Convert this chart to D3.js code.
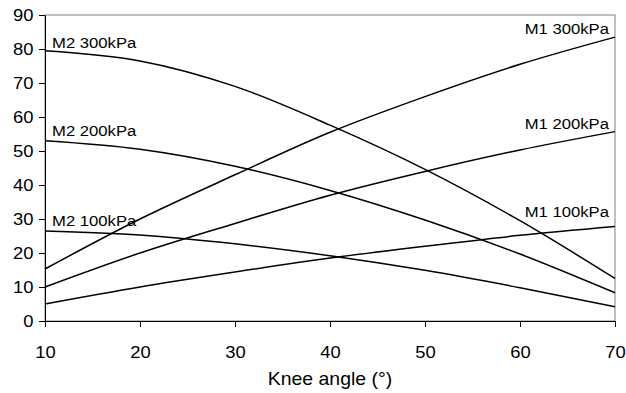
<!DOCTYPE html>
<html>
<head>
<meta charset="utf-8">
<script src="https://cdn.jsdelivr.net/npm/d3@7"></script>
<style>
  body { margin: 0; background: #fff; }
  text { font-family: "Liberation Sans", Arial, sans-serif; fill: #000; }
</style>
</head>
<body>
<div id="chart"></div>
<script>
// knee angle (deg) and moments for each muscle / pressure
const angles = [10, 20, 30, 40, 50, 60, 70];
const m1_100 = [5, 10, 14.4, 18.5, 22, 25.2, 27.8];
const m1_200 = [10, 20, 28.7, 37, 44, 50.3, 55.7];
const m1_300 = [15.3, 30, 43, 55.5, 66, 75.5, 83.5];
const m2_100 = [26.5, 25.3, 22.7, 19.2, 14.9, 9.8, 4.2];
const m2_200 = [53, 50.5, 45.5, 38.4, 29.7, 19.7, 8.3];
const m2_300 = [79.5, 76.5, 69, 57.6, 44.6, 29.5, 12.5];
const yTicks = [0, 10, 20, 30, 40, 50, 60, 70, 80, 90];
const xTicks = [10, 20, 30, 40, 50, 60, 70];
const seriesNames = ["M1 100kPa", "M1 200kPa", "M1 300kPa", "M2 100kPa", "M2 200kPa", "M2 300kPa"];

var series = [m1_100, m1_200, m1_300, m2_100, m2_200, m2_300].map(function(v, i) {
  return {name: seriesNames[i], values: v, side: i < 3 ? "right" : "left"};
});

// label lift above the line end, px
var labelLift = {"M1 100kPa": 9, "M1 200kPa": 3, "M1 300kPa": 3,
                 "M2 100kPa": 5, "M2 200kPa": 5, "M2 300kPa": 3};

var W = 626, H = 393;
var margin = {top: 15, right: 11, bottom: 72, left: 45};
var width = W - margin.left - margin.right;
var height = H - margin.top - margin.bottom;
var stretch = 1.15;

var svg = d3.select("#chart").append("svg")
    .attr("width", W)
    .attr("height", H);
var g = svg.append("g")
    .attr("transform", "translate(" + margin.left + "," + margin.top + ")");

var x = d3.scaleLinear().domain([10, 70]).range([0, width]);
var y = d3.scaleLinear().domain([0, 90]).range([height, 0]);

// grey frame (top and right)
g.append("rect")
    .attr("x", 0).attr("y", 0)
    .attr("width", width).attr("height", height)
    .attr("fill", "none")
    .attr("stroke", "#808080")
    .attr("stroke-width", 1);

var yAxis = g.append("g")
    .call(d3.axisLeft(y).tickValues(yTicks).tickSize(6).tickSizeOuter(0).tickPadding(4));
yAxis.selectAll("text")
    .attr("x", -10)
    .attr("transform", "scale(" + stretch + ",1)")
    .style("font-size", "16px");

var xAxis = g.append("g")
    .attr("transform", "translate(0," + height + ")")
    .call(d3.axisBottom(x).tickValues(xTicks).tickSize(6).tickSizeOuter(0).tickPadding(20));
xAxis.selectAll("text")
    .attr("transform", "scale(" + stretch + ",1)")
    .style("font-size", "16px");

g.selectAll(".domain, .tick line").attr("stroke", "#000").attr("stroke-width", 1);

var line = d3.line()
    .x(function(d, i) { return x(angles[i]); })
    .y(function(d) { return y(d); })
    .curve(d3.curveMonotoneX);

g.selectAll(".series")
    .data(series)
    .enter().append("path")
    .attr("class", "series")
    .attr("fill", "none")
    .attr("stroke", "#000")
    .attr("stroke-width", 1.5)
    .attr("d", function(d) { return line(d.values); });

// series labels next to the line ends
series.forEach(function(s) {
  var last = s.values.length - 1;
  var px = s.side === "left" ? x(angles[0]) + 7 : x(angles[last]) - 6;
  var py = s.side === "left" ? y(s.values[0]) : y(s.values[last]);
  g.append("text")
      .attr("transform", "translate(" + px + "," + (py - labelLift[s.name]) + ") scale(" + stretch + ",1)")
      .attr("text-anchor", s.side === "left" ? "start" : "end")
      .style("font-size", "14.5px")
      .text(s.name);
});

g.append("text")
    .attr("transform", "translate(" + (width / 2) + "," + (height + 64) + ") scale(1.08,1)")
    .attr("text-anchor", "middle")
    .style("font-size", "18px")
    .text("Knee angle (°)");
</script>
</body>
</html>
